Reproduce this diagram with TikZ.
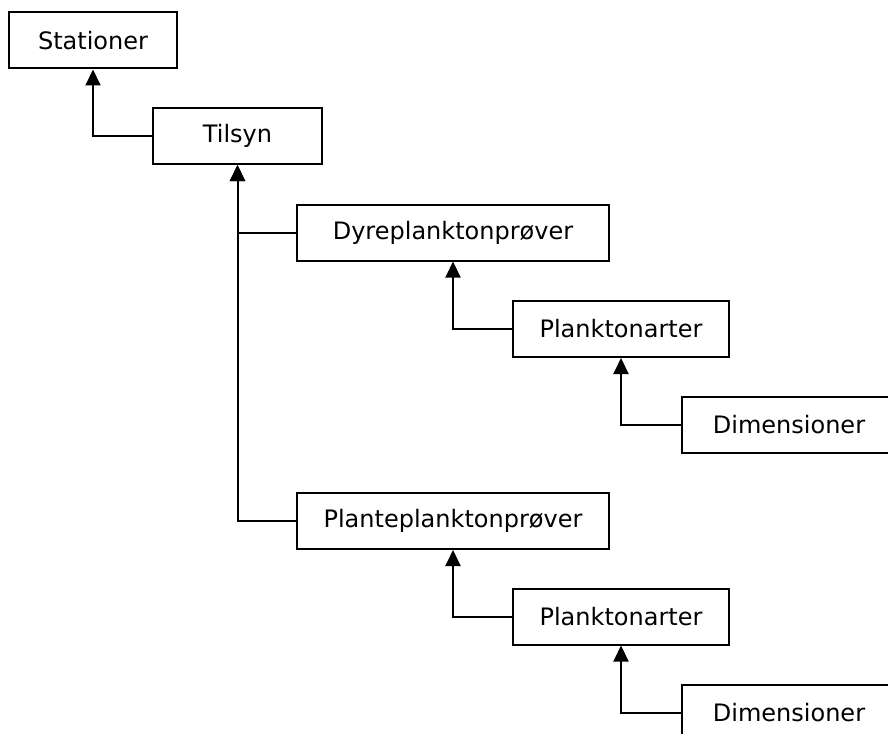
\documentclass[tikz,border=0pt]{standalone}
\usepackage{fontspec}
\setmainfont{DejaVu Sans}
\usetikzlibrary{arrows.meta}
\begin{document}
\begin{tikzpicture}[x=1pt,y=-1pt,
  box/.style={draw, line width=2pt, rectangle, inner sep=0pt, minimum height=56pt, font=\fontsize{24}{28}\selectfont},
  conn/.style={line width=2pt, -{Triangle[width=15pt,length=16pt]}}]
\useasboundingbox (0,0) rectangle (888,733);
\clip (0,0) rectangle (888,733);
\node[box, minimum width=168pt] (stat) at (93,40.5) {Stationer};
\node[box, minimum width=169pt] (tils) at (237.5,136) {Tilsyn};
\node[box, minimum width=312pt] (dyre) at (453,232.5) {Dyreplanktonprøver};
\node[box, minimum width=216pt] (pa1) at (621,329) {Planktonarter};
\node[box, minimum width=214pt] (dim1) at (789,425) {Dimensioner};
\node[box, minimum width=312pt] (plan) at (453,521) {Planteplanktonprøver};
\node[box, minimum width=216pt] (pa2) at (621,616.5) {Planktonarter};
\node[box, minimum width=214pt] (dim2) at (789,713) {Dimensioner};
\draw[conn] (tils.west) -| (stat.south);
\draw[conn] (dyre.west) -| (tils.south);
\draw[conn] (plan.west) -| (tils.south);
\draw[conn] (pa1.west) -| (dyre.south);
\draw[conn] (dim1.west) -| (pa1.south);
\draw[conn] (pa2.west) -| (plan.south);
\draw[conn] (dim2.west) -| (pa2.south);
\end{tikzpicture}
\end{document}
